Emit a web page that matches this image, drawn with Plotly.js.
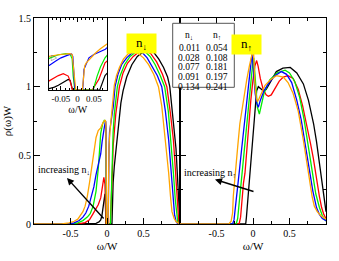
<!DOCTYPE html>
<html><head><meta charset="utf-8">
<script src="https://cdn.plot.ly/plotly-3.0.1.min.js"></script>
<style>html,body{margin:0;padding:0;background:#fff}#chart{width:339px;height:261px}</style>
</head><body><div id="chart"></div>
<script>
// ---- n_down panel (left) ----
const dnBlackX = [-1,-0.25,-0.15,-0.11,-0.086,-0.07,-0.058,-0.045,-0.035,-0.028,-0.022,-0.018,-0.015,0.068,0.072,0.084,0.1,0.133,0.16,0.19,0.22,0.27,0.34,0.415,0.5,0.57,0.64,0.71,0.775,0.83,0.86,0.89,0.92,0.945,0.96,0.98,1.0];
const dnBlackY = [0,0,0.005,0.015,0.03,0.06,0.1,0.15,0.2,0.22,0.2,0.05,0,0,0.08,0.3,0.42,0.61,0.76,0.88,0.97,1.07,1.16,1.22,1.255,1.27,1.25,1.2,1.14,1.07,1.0,0.85,0.7,0.55,0.4,0.15,0];
const dnRedX = [-1,-0.4,-0.3,-0.24,-0.19,-0.15,-0.12,-0.086,-0.058,-0.043,-0.028,-0.023,-0.018,-0.015,0.045,0.05,0.065,0.075,0.084,0.096,0.12,0.17,0.22,0.28,0.36,0.44,0.52,0.6,0.68,0.76,0.82,0.87,0.91,0.94,0.96,0.975,0.985,1.0];
const dnRedY = [0,0,0.01,0.03,0.075,0.11,0.14,0.19,0.3,0.34,0.29,0.2,0.05,0,0,0.05,0.22,0.4,0.565,0.64,0.8,1.0,1.1,1.17,1.22,1.255,1.266,1.24,1.18,1.09,1.0,0.8,0.61,0.37,0.18,0.06,0,0];
const dnGreenX = [-1,-0.46,-0.4,-0.33,-0.27,-0.23,-0.19,-0.15,-0.12,-0.1,-0.086,-0.06,-0.035,-0.022,-0.016,-0.013,-0.01,-0.008,0.048,0.052,0.06,0.07,0.084,0.1,0.142,0.18,0.24,0.316,0.39,0.45,0.52,0.59,0.66,0.73,0.79,0.84,0.876,0.91,0.935,0.955,0.97,0.98,1.0];
const dnGreenY = [0,0,0.008,0.025,0.05,0.075,0.13,0.24,0.4,0.55,0.66,0.73,0.757,0.745,0.65,0.3,0.03,0,0,0.1,0.29,0.48,0.67,0.8,1.0,1.08,1.16,1.22,1.25,1.26,1.255,1.22,1.16,1.08,1.0,0.82,0.61,0.37,0.18,0.06,0.01,0,0];
const dnBlueX = [-1,-0.52,-0.45,-0.38,-0.33,-0.29,-0.25,-0.21,-0.18,-0.15,-0.12,-0.1,-0.086,-0.067,-0.05,-0.033,-0.018,-0.014,-0.011,-0.008,-0.005,0.016,0.018,0.02,0.028,0.035,0.05,0.07,0.085,0.11,0.15,0.2,0.27,0.34,0.415,0.48,0.55,0.62,0.69,0.75,0.8,0.845,0.88,0.905,0.925,0.945,0.97,1.0];
const dnBlueY = [0,0,0.008,0.025,0.05,0.08,0.13,0.2,0.27,0.36,0.44,0.48,0.51,0.6,0.67,0.716,0.75,0.7,0.4,0.05,0,0,0.2,0.43,0.56,0.67,0.74,0.8,0.85,1.0,1.09,1.16,1.21,1.245,1.258,1.25,1.21,1.15,1.08,1.0,0.82,0.61,0.37,0.18,0.07,0.02,0,0];
const dnOrangeX = [-1,-0.62,-0.52,-0.45,-0.4,-0.37,-0.33,-0.3,-0.27,-0.24,-0.21,-0.18,-0.15,-0.12,-0.086,-0.053,-0.035,-0.023,-0.016,-0.012,-0.008,-0.005,0.015,0.018,0.022,0.027,0.04,0.055,0.07,0.085,0.1,0.13,0.17,0.225,0.29,0.36,0.43,0.5,0.57,0.64,0.705,0.75,0.8,0.845,0.87,0.89,0.92,0.95,1.0];
const dnOrangeY = [0,0,0.008,0.02,0.035,0.06,0.09,0.13,0.2,0.3,0.42,0.55,0.63,0.68,0.7,0.74,0.75,0.757,0.74,0.45,0.08,0,0,0.3,0.5,0.565,0.67,0.77,0.86,0.94,1.01,1.08,1.14,1.2,1.24,1.254,1.24,1.21,1.16,1.09,1.0,0.86,0.61,0.37,0.2,0.09,0.04,0.015,0];

// ---- n_up panel (right) ----
const upBlackX = [-1,-0.1,-0.09,-0.075,-0.06,-0.04,-0.02,0.004,0.03,0.05,0.073,0.1,0.14,0.18,0.24,0.32,0.41,0.51,0.6,0.69,0.76,0.83,0.87,0.895,0.92,0.96,0.99,1.0];
const upBlackY = [0,0,0.05,0.15,0.27,0.37,0.52,0.73,0.9,0.97,1.0,0.99,0.97,0.98,1.04,1.11,1.135,1.14,1.1,1.02,0.9,0.73,0.6,0.5,0.41,0.24,0.12,0.09];
const upRedX = [-1,-0.19,-0.17,-0.15,-0.13,-0.11,-0.085,-0.06,-0.03,0.0,0.025,0.05,0.07,0.1,0.14,0.18,0.21,0.25,0.3,0.36,0.415,0.48,0.55,0.62,0.68,0.735,0.79,0.826,0.87,0.91,0.94,0.97,1.0];
const upRedY = [0,0,0.05,0.2,0.3,0.37,0.55,0.73,0.9,1.05,1.15,1.19,1.15,1.06,0.98,0.94,0.93,0.94,0.99,1.04,1.07,1.08,1.06,0.98,0.86,0.73,0.58,0.48,0.32,0.2,0.12,0.07,0.04];
const upGreenX = [-1,-0.23,-0.21,-0.19,-0.17,-0.15,-0.12,-0.09,-0.05,-0.02,0.0,0.01,0.02,0.04,0.06,0.087,0.11,0.15,0.23,0.33,0.44,0.5,0.57,0.64,0.7,0.75,0.78,0.82,0.86,0.91,0.95,1.0];
const upGreenY = [0,0,0.04,0.15,0.28,0.37,0.55,0.73,0.93,1.1,1.19,1.21,1.12,0.95,0.85,0.8,0.86,0.95,1.05,1.1,1.12,1.1,1.04,0.92,0.76,0.6,0.49,0.36,0.22,0.12,0.06,0.02];
const upBlueX = [-1,-0.28,-0.26,-0.24,-0.22,-0.19,-0.155,-0.12,-0.08,-0.05,-0.03,-0.015,-0.005,0.01,0.03,0.05,0.073,0.1,0.15,0.22,0.3,0.39,0.46,0.53,0.6,0.66,0.71,0.745,0.78,0.82,0.87,0.91,0.95,1.0];
const upBlueY = [0,0,0.03,0.12,0.25,0.37,0.55,0.73,0.92,1.08,1.18,1.235,1.2,1.08,0.95,0.88,0.85,0.9,0.97,1.03,1.08,1.11,1.09,1.03,0.9,0.76,0.6,0.5,0.38,0.24,0.12,0.07,0.04,0.025];
const upOrangeX = [-1,-0.33,-0.3,-0.28,-0.27,-0.255,-0.245,-0.21,-0.18,-0.13,-0.086,-0.05,-0.018,0.005,0.012,0.025,0.045,0.06,0.08,0.12,0.165,0.24,0.32,0.415,0.48,0.55,0.62,0.69,0.72,0.75,0.78,0.81,0.84,0.88,0.93,1.0];
const upOrangeY = [0,0,0.02,0.08,0.2,0.3,0.37,0.56,0.73,0.92,1.05,1.15,1.24,1.28,1.2,1.02,0.92,0.89,0.91,0.96,1.01,1.05,1.08,1.07,1.03,0.95,0.82,0.61,0.5,0.4,0.29,0.2,0.13,0.09,0.06,0.035];

// ---- table / labels ----
const nDownVals = ['0.011','0.028','0.077','0.091','0.134'];
const nUpVals = ['0.054','0.108','0.181','0.197','0.241'];
const xTickVals = [-0.5, 0, 0.5];
const xTickText = ['-0.5', '0', '0.5'];
const yTickVals = [0, 0.5, 1, 1.5];
const yTickText = ['0', '0.5', '1', '1.5'];
const insetTickVals = [-0.05, 0, 0.05];
const insetTickText = ['-0.05', '0', '0.05'];

const colors = ['#000000', '#ff0000', '#00ee00', '#0000ff', '#ffa500'];
const dnSets = [[dnBlackX,dnBlackY],[dnRedX,dnRedY],[dnGreenX,dnGreenY],[dnBlueX,dnBlueY],[dnOrangeX,dnOrangeY]];
const upSets = [[upBlackX,upBlackY],[upRedX,upRedY],[upGreenX,upGreenY],[upBlueX,upBlueY],[upOrangeX,upOrangeY]];

const serif = '"Liberation Serif", "Times New Roman", serif';
const traces = [];
dnSets.forEach((s,i)=>traces.push({x:s[0],y:s[1],xaxis:'x',yaxis:'y',mode:'lines',line:{color:colors[i],width:1.3},hoverinfo:'skip',showlegend:false}));
upSets.forEach((s,i)=>traces.push({x:s[0],y:s[1],xaxis:'x2',yaxis:'y2',mode:'lines',line:{color:colors[i],width:1.3},hoverinfo:'skip',showlegend:false}));
dnSets.forEach((s,i)=>traces.push({x:s[0],y:s[1],xaxis:'x3',yaxis:'y3',mode:'lines',line:{color:colors[i],width:1.2},hoverinfo:'skip',showlegend:false}));

function axis(extra){
  return Object.assign({showline:true,linecolor:'#000',linewidth:1,mirror:'allticks',ticks:'inside',ticklen:6,tickwidth:1,tickcolor:'#000',
    showgrid:false,zeroline:false,tickfont:{family:serif,size:10,color:'#000'},fixedrange:true}, extra);
}
const W = 292, H = 206, L = 34, T = 18;
const px = X => (X - L) / W;
const py = Y => (T + H - Y) / H;

const annotations = [
  {xref:'paper',yref:'paper',x:px(141.7),y:py(33),text:'n<sub>↓</sub>',showarrow:false,bgcolor:'#ffff00',width:27,height:17,font:{family:serif,size:13,color:'#000'}},
  {xref:'paper',yref:'paper',x:px(261.7),y:py(33.7),text:'n<sub>↑</sub>',showarrow:false,bgcolor:'#ffff00',width:27,height:17,font:{family:serif,size:13,color:'#000'}},
  {xref:'paper',yref:'paper',x:px(36),y:py(179),xanchor:'left',text:'increasing n<sub>↓</sub>',showarrow:false,font:{family:serif,size:10,color:'#000'}},
  {xref:'paper',yref:'paper',x:px(181.5),y:py(182),xanchor:'left',text:'increasing n<sub>↑</sub>',showarrow:false,font:{family:serif,size:10,color:'#000'}},
  {xref:'paper',yref:'paper',x:px(67),y:py(178),ax:38,ay:42,text:'',showarrow:true,arrowhead:2,arrowsize:1,arrowwidth:1.4,arrowcolor:'#000',standoff:0},
  {xref:'paper',yref:'paper',x:px(215),y:py(179.5),ax:40,ay:12.5,text:'',showarrow:true,arrowhead:2,arrowsize:1,arrowwidth:1.4,arrowcolor:'#000',standoff:0},
  {xref:'paper',yref:'paper',x:px(49),y:py(51),text:'▷',showarrow:false,font:{family:'DejaVu Sans',size:8,color:'#777'}},
  {xref:'paper',yref:'paper',x:px(189),y:py(28.5),text:'n<sub>↓</sub>',showarrow:false,font:{family:serif,size:9.5,color:'#000'}},
  {xref:'paper',yref:'paper',x:px(216.5),y:py(28.5),text:'n<sub>↑</sub>',showarrow:false,font:{family:serif,size:9.5,color:'#000'}}
];
const rowY = [41, 50.5, 60.2, 70, 79.8];
nDownVals.forEach((v,i)=>annotations.push({xref:'paper',yref:'paper',x:px(189),y:py(rowY[i]),text:v,showarrow:false,font:{family:serif,size:9.5,color:'#000'}}));
nUpVals.forEach((v,i)=>annotations.push({xref:'paper',yref:'paper',x:px(216.5),y:py(rowY[i]),text:v,showarrow:false,font:{family:serif,size:9.5,color:'#000'}}));

const layout = {
  width:339, height:261,
  margin:{l:34, r:13, t:18, b:37, pad:0},
  paper_bgcolor:'#fff', plot_bgcolor:'#fff',
  showlegend:false,
  xaxis: axis({domain:[0,0.5],anchor:'y',range:[-1,1],tickmode:'array',tickvals:xTickVals,ticktext:xTickText,
    minor:{tickmode:'linear',tick0:0,dtick:0.25,ticks:'inside',ticklen:3,tickcolor:'#000'},
    title:{text:'ω/W',font:{family:serif,size:11,color:'#000'},standoff:4}}),
  yaxis: axis({domain:[0,1],anchor:'x',range:[0,1.5],tickmode:'array',tickvals:yTickVals,ticktext:yTickText,
    minor:{tickmode:'linear',tick0:0,dtick:0.25,ticks:'inside',ticklen:3,tickcolor:'#000'},
    title:{text:'ρ(ω)W',font:{family:serif,size:11,color:'#000'},standoff:4}}),
  xaxis2: axis({domain:[0.5,1],anchor:'y2',range:[-1,1],tickmode:'array',tickvals:xTickVals,ticktext:xTickText,
    minor:{tickmode:'linear',tick0:0,dtick:0.25,ticks:'inside',ticklen:3,tickcolor:'#000'},
    title:{text:'ω/W',font:{family:serif,size:11,color:'#000'},standoff:4}}),
  yaxis2: axis({domain:[0,1],anchor:'x2',range:[0,1.5],tickmode:'array',tickvals:yTickVals,showticklabels:false,
    minor:{tickmode:'linear',tick0:0,dtick:0.25,ticks:'inside',ticklen:3,tickcolor:'#000'}}),
  xaxis3: axis({domain:[px(48.5),px(107)],anchor:'y3',range:[-0.088,0.09],tickmode:'array',tickvals:insetTickVals,ticktext:insetTickText,
    ticklen:4,tickfont:{family:serif,size:9,color:'#000'},
    minor:{tickmode:'linear',tick0:0,dtick:0.0125,ticks:'inside',ticklen:2,tickcolor:'#000'},
    title:{text:'ω/W',font:{family:serif,size:10,color:'#000'},standoff:1}}),
  yaxis3: axis({domain:[py(90),1],anchor:'x3',range:[0,1.5],ticks:'',showticklabels:false,mirror:true}),
  shapes:[
    {type:'rect',xref:'paper',yref:'paper',x0:px(172.7),x1:px(234.3),y0:py(87.3),y1:py(23.3),line:{color:'#555',width:1},fillcolor:'#fff',layer:'above'}
  ],
  annotations: annotations
};
Plotly.newPlot('chart', traces, layout, {staticPlot:true, displayModeBar:false});
</script></body></html>
